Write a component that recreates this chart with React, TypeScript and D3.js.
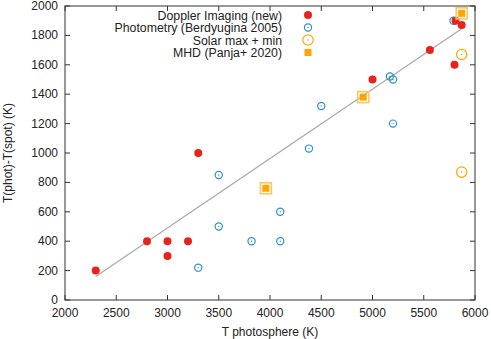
import React, { useEffect, useRef } from "react";
import * as d3 from "d3";

// Doppler Imaging (new)
const dopplerT = [2300, 2800, 3000, 3000, 3200, 3300, 5000, 5560, 5800, 5810, 5870];
const dopplerDT = [200, 400, 400, 300, 400, 1000, 1500, 1700, 1600, 1900, 1870];

// Photometry (Berdyugina 2005)
const photT = [3300, 3500, 3500, 3820, 4100, 4100, 4380, 4500, 5170, 5200, 5200, 5790];
const photDT = [220, 850, 500, 400, 600, 400, 1030, 1320, 1520, 1500, 1200, 1900];

// Solar max + min
const solarT = [5870, 5870];
const solarDT = [1670, 870];

// MHD (Panja+ 2020)
const mhdT = [3960, 4910, 5870];
const mhdDT = [760, 1380, 1950];

// linear fit endpoints
const fitT = [2300, 5870];
const fitDT = [160, 1845];

const xTicks = [2000, 2500, 3000, 3500, 4000, 4500, 5000, 5500, 6000];
const yTicks = [0, 200, 400, 600, 800, 1000, 1200, 1400, 1600, 1800, 2000];

const W = 491;
const H = 339;
const margin = { top: 6, right: 16, bottom: 39, left: 65 };

const RED = "#e8231b";
const BLUE = "#2f8fcf";
const ORANGE = "#ffa500";
const LIGHT_ORANGE = "#ffc75a";
const FONT = "'Liberation Sans', Arial, Helvetica, sans-serif";

export default function App() {
    const svgRef = useRef<SVGSVGElement>(null);

    useEffect(() => {
        const svg = d3.select(svgRef.current);
        svg.selectAll("*").remove();

        const x = d3.scaleLinear().domain([2000, 6000]).range([margin.left, W - margin.right]);
        const y = d3.scaleLinear().domain([0, 2000]).range([H - margin.bottom, margin.top]);

        const x0 = x.range()[0], x1 = x.range()[1];
        const y0 = y.range()[0], y1 = y.range()[1];
        const tick = 5;
        const axisColor = "#333";

        const g = svg.append("g");

        // ticks (inside, mirrored)
        xTicks.forEach(t => {
            g.append("line").attr("x1", x(t)).attr("x2", x(t)).attr("y1", y0).attr("y2", y0 - tick)
                .attr("stroke", axisColor);
            g.append("line").attr("x1", x(t)).attr("x2", x(t)).attr("y1", y1).attr("y2", y1 + tick)
                .attr("stroke", axisColor);
            g.append("text").attr("x", x(t)).attr("y", y0 + 17).attr("text-anchor", "middle")
                .style("font-size", "12px").style("font-family", FONT).attr("fill", "#222").text(t);
        });
        yTicks.forEach(t => {
            g.append("line").attr("x1", x0).attr("x2", x0 + tick).attr("y1", y(t)).attr("y2", y(t))
                .attr("stroke", axisColor);
            g.append("line").attr("x1", x1).attr("x2", x1 - tick).attr("y1", y(t)).attr("y2", y(t))
                .attr("stroke", axisColor);
            g.append("text").attr("x", x0 - 7).attr("y", y(t) + 4).attr("text-anchor", "end")
                .style("font-size", "12px").style("font-family", FONT).attr("fill", "#222").text(t);
        });

        // border
        g.append("rect").attr("x", x0).attr("y", y1).attr("width", x1 - x0).attr("height", y0 - y1)
            .attr("fill", "none").attr("stroke", axisColor);

        // axis labels
        g.append("text").attr("x", (x0 + x1) / 2).attr("y", H - 3).attr("text-anchor", "middle")
            .style("font-size", "12px").style("font-family", FONT).attr("fill", "#222")
            .text("T photosphere (K)");
        g.append("text").attr("transform", `translate(12,${(y0 + y1) / 2}) rotate(-90)`)
            .attr("text-anchor", "middle")
            .style("font-size", "12px").style("font-family", FONT).attr("fill", "#222")
            .text("T(phot)-T(spot) (K)");

        // fit line
        g.append("line").attr("x1", x(fitT[0])).attr("y1", y(fitDT[0]))
            .attr("x2", x(fitT[1])).attr("y2", y(fitDT[1]))
            .attr("stroke", "#a8a8a8").attr("stroke-width", 1.2);

        const drawRed = (cx: number, cy: number) => {
            g.append("circle").attr("cx", cx).attr("cy", cy).attr("r", 4).attr("fill", RED);
        };
        const drawBlue = (cx: number, cy: number) => {
            g.append("circle").attr("cx", cx).attr("cy", cy).attr("r", 3.6)
                .attr("fill", "none").attr("stroke", BLUE).attr("stroke-width", 1.2);
            g.append("circle").attr("cx", cx).attr("cy", cy).attr("r", 0.7).attr("fill", BLUE);
        };
        const drawSolar = (cx: number, cy: number) => {
            g.append("circle").attr("cx", cx).attr("cy", cy).attr("r", 5.2)
                .attr("fill", "none").attr("stroke", ORANGE).attr("stroke-width", 1.2);
            g.append("circle").attr("cx", cx).attr("cy", cy).attr("r", 0.8).attr("fill", ORANGE);
        };
        const drawSquare = (cx: number, cy: number) => {
            g.append("rect").attr("x", cx - 3.5).attr("y", cy - 3.5).attr("width", 7).attr("height", 7)
                .attr("fill", ORANGE);
        };
        const drawMhd = (cx: number, cy: number) => {
            g.append("rect").attr("x", cx - 5.5).attr("y", cy - 5.5).attr("width", 11).attr("height", 11)
                .attr("fill", "none").attr("stroke", LIGHT_ORANGE).attr("stroke-width", 1.6);
            drawSquare(cx, cy);
        };

        photT.forEach((t, i) => drawBlue(x(t), y(photDT[i])));
        dopplerT.forEach((t, i) => drawRed(x(t), y(dopplerDT[i])));
        solarT.forEach((t, i) => drawSolar(x(t), y(solarDT[i])));
        mhdT.forEach((t, i) => drawMhd(x(t), y(mhdDT[i])));

        // legend
        const legend = [
            { label: "Doppler Imaging (new)", draw: drawRed },
            { label: "Photometry (Berdyugina 2005)", draw: drawBlue },
            { label: "Solar max + min", draw: drawSolar },
            { label: "MHD (Panja+ 2020)", draw: drawSquare },
        ];
        legend.forEach((d, i) => {
            const ly = 15 + i * 12.5;
            g.append("text").attr("x", 282).attr("y", ly + 4.5).attr("text-anchor", "end")
                .style("font-size", "12.3px").style("font-family", FONT).attr("fill", "#222").text(d.label);
            d.draw(308, ly);
        });
    }, []);

    return (
        <svg ref={svgRef} width={W} height={H}
            style={{ position: "absolute", left: 0, top: 0, background: "#fff" }} />
    );
}
